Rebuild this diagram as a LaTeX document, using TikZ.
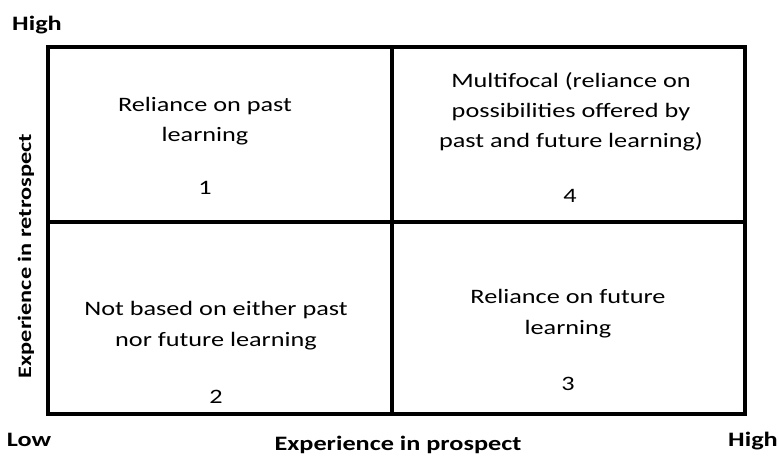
\documentclass[tikz,border=0pt]{standalone}
\usepackage{fontspec}
\setmainfont{Carlito}
\newfontfamily\widefont[FakeStretch=1.28]{Carlito}
\begin{document}
\begin{tikzpicture}[x=1pt,y=-1pt,
  frame/.style={line width=4.5pt},
  divider/.style={line width=4pt},
  cellline/.style={font=\widefont\fontsize{20.5}{24}\selectfont, anchor=base, inner sep=0pt},
  axislabel/.style={font=\widefont\bfseries\fontsize{20.5}{24}\selectfont, anchor=base, inner sep=0pt}]
\useasboundingbox (0,0) rectangle (779,457);
% grid corners and midpoints
\coordinate (tl) at (48,47);
\coordinate (br) at (745,414);
\coordinate (mt) at (392,47);
\coordinate (mb) at (392,414);
\coordinate (ml) at (48,222);
\coordinate (mr) at (745,222);
\draw[frame] (tl) rectangle (br);
\draw[divider] (mt) -- (mb);
\draw[divider] (ml) -- (mr);
% quadrant 1 (top left)
\node[cellline] (q1a) at (205,112) {Reliance on past};
\node[cellline] (q1b) at (205,142) {learning};
\node[cellline] (n1) at (205,195) {1};
% quadrant 4 (top right)
\node[cellline] (q4a) at (571,88) {Multifocal (reliance on};
\node[cellline] (q4b) at (571,118) {possibilities offered by};
\node[cellline] (q4c) at (571,148) {past and future learning)};
\node[cellline] (n4) at (570,203) {4};
% quadrant 2 (bottom left)
\node[cellline] (q2a) at (216,315) {Not based on either past};
\node[cellline] (q2b) at (216,346) {nor future learning};
\node[cellline] (n2) at (216,403) {2};
% quadrant 3 (bottom right)
\node[cellline] (q3a) at (568,303) {Reliance on future};
\node[cellline] (q3b) at (568,334) {learning};
\node[cellline] (n3) at (568,390) {3};
% axis labels
\node[axislabel] (yhigh) at (37,31) {High};
\node[axislabel] (xlow) at (29,446) {Low};
\node[axislabel] (xlab) at (398,450) {Experience in prospect};
\node[axislabel] (xhigh) at (753,446) {High};
\node[axislabel, font=\widefont\bfseries\fontsize{19}{22}\selectfont, rotate=90] (ylab) at (31,256) {Experience in retrospect};
\end{tikzpicture}
\end{document}
